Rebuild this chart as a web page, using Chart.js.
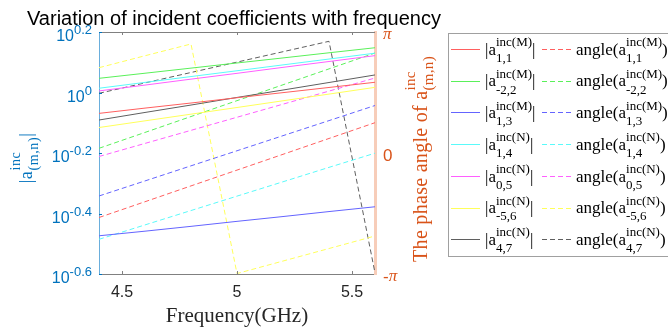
<!DOCTYPE html>
<html>
<head>
<meta charset="utf-8">
<script src="https://cdn.jsdelivr.net/npm/chart.js@4.4.1/dist/chart.umd.min.js"></script>
<style>
html,body{margin:0;padding:0;background:#ffffff;overflow:hidden;}
#wrap{position:relative;width:668px;height:333px;overflow:hidden;background:#fff;}
#c{position:absolute;left:0;top:0;}
.lbl{position:absolute;white-space:nowrap;line-height:1;margin:0;padding:0;}
.rot{position:absolute;left:0;top:0;width:0;height:0;transform-origin:0 0;}
</style>
</head>
<body>
<div id="wrap"><canvas id="c" width="668" height="333"></canvas><div id="ov"></div></div>
<script>
// ---------------- data ----------------
const freqGHz = [4.4, 4.6, 4.8, 5.0, 5.2, 5.4, 5.6];
const modeTypes = ['M', 'M', 'M', 'N', 'N', 'N', 'N'];
const modeIdx = ['1,1', '-2,2', '1,3', '1,4', '0,5', '-5,6', '4,7'];

// magnitudes |a|
const mag_1_1  = [0.853, 0.888, 0.923, 0.961, 0.999, 1.039, 1.081];
const mag_m2_2 = [1.114, 1.158, 1.204, 1.252, 1.301, 1.353, 1.406];
const mag_1_3  = [0.336, 0.348, 0.361, 0.375, 0.389, 0.404, 0.419];
const mag_1_4  = [1.033, 1.080, 1.129, 1.180, 1.234, 1.290, 1.349];
const mag_0_5  = [1.012, 1.058, 1.107, 1.157, 1.211, 1.266, 1.324];
const mag_m5_6 = [0.766, 0.806, 0.848, 0.892, 0.939, 0.988, 1.040];
const mag_4_7  = [0.811, 0.859, 0.909, 0.963, 1.019, 1.079, 1.143];

// phase angles (rad)
const ang_1_1  = [-1.675, -1.265, -0.854, -0.444, -0.034, 0.377, 0.787];
const ang_m2_2 = [0.122, 0.534, 0.947, 1.359, 1.771, 2.184, 2.596];
const ang_1_3  = [-1.116, -0.725, -0.333, 0.058, 0.450, 0.841, 1.233];
const ang_1_4  = [-2.241, -1.867, -1.494, -1.120, -0.747, -0.373, -0.005];
const ang_0_5  = [-0.091, 0.249, 0.588, 0.928, 1.268, 1.607, 1.947];
const ang_m5_6 = [2.215, 2.525, 2.830, -3.130, -2.805, -2.480, -2.155];
const ang_4_7  = [1.550, 1.820, 2.090, 2.360, 2.630, 2.900, -3.113];

// ticks
const xTicks = [4.5, 5, 5.5];
const yMagTickExps = [0.2, 0, -0.2, -0.4, -0.6];
const yAngTicks = [Math.PI, 0, -Math.PI];
const yAngTickLabels = ['π', '0', '-π'];

// ---------------- styles ----------------
const mags = [mag_1_1, mag_m2_2, mag_1_3, mag_1_4, mag_0_5, mag_m5_6, mag_4_7];
const angs = [ang_1_1, ang_m2_2, ang_1_3, ang_1_4, ang_0_5, ang_m5_6, ang_4_7];
const seriesColors = ['rgb(255,95,95)', 'rgb(90,240,90)', 'rgb(100,100,255)', 'rgb(90,250,250)',
                      'rgb(255,95,255)', 'rgb(255,255,90)', 'rgb(95,95,95)'];
const DASH = [5, 3];
const SERIF = '"Liberation Serif","Times New Roman",serif';
const SANS = '"Liberation Sans",Arial,sans-serif';
const BLUE = '#0072BD';
const ORANGE = '#D95319';

const datasets = [];
mags.forEach((m, i) => {
  datasets.push({
    label: '|a^{inc(' + modeTypes[i] + ')}_{' + modeIdx[i] + '}|',
    data: freqGHz.map((f, j) => ({x: f, y: m[j]})),
    yAxisID: 'yMag', borderColor: seriesColors[i], borderWidth: 1,
    pointRadius: 0, fill: false, tension: 0
  });
});
angs.forEach((a, i) => {
  datasets.push({
    label: 'angle(a^{inc(' + modeTypes[i] + ')}_{' + modeIdx[i] + '})',
    data: freqGHz.map((f, j) => ({x: f, y: a[j]})),
    yAxisID: 'yAng', borderColor: seriesColors[i], borderWidth: 1, borderDash: DASH,
    pointRadius: 0, fill: false, tension: 0
  });
});

const LEG_X = 448, LEG_Y0 = 49, LEG_DY = 31.7;

const deco = {
  id: 'deco',
  afterDraw(chart) {
    const ctx = chart.ctx, a = chart.chartArea;
    const xs = chart.scales.x, ym = chart.scales.yMag, ya = chart.scales.yAng;
    ctx.save();
    // top border
    ctx.strokeStyle = '#808080'; ctx.lineWidth = 1; ctx.setLineDash([]);
    ctx.beginPath(); ctx.moveTo(a.left, a.top + 0.5); ctx.lineTo(a.right, a.top + 0.5); ctx.stroke();
    // x tick marks
    xTicks.forEach(v => {
      const px = Math.round(xs.getPixelForValue(v)) + 0.5;
      ctx.beginPath();
      ctx.moveTo(px, a.bottom); ctx.lineTo(px, a.bottom - 3);
      ctx.moveTo(px, a.top); ctx.lineTo(px, a.top + 3);
      ctx.stroke();
    });
    // left log-axis ticks & labels
    ctx.strokeStyle = BLUE; ctx.fillStyle = BLUE; ctx.textAlign = 'left'; ctx.textBaseline = 'alphabetic';
    yMagTickExps.forEach(e => {
      const py = ym.getPixelForValue(Math.pow(10, e));
      ctx.beginPath(); ctx.moveTo(a.left, Math.round(py) + 0.5); ctx.lineTo(a.left + 3, Math.round(py) + 0.5); ctx.stroke();
      const ex = (e === 0) ? '0' : e.toFixed(1);
      ctx.font = '13px ' + SANS; const we = ctx.measureText(ex).width;
      ctx.font = '16px ' + SANS; const wm = ctx.measureText('10').width;
      const xr = 92;
      ctx.fillText('10', xr - we - wm, py + 9);
      ctx.font = '13px ' + SANS; ctx.fillText(ex, xr - we, py + 2);
    });
    // right angle-axis labels
    ctx.fillStyle = ORANGE;
    yAngTicks.forEach((v, i) => {
      const py = ya.getPixelForValue(v);
      const t = yAngTickLabels[i];
      let x = 383;
      if (t.startsWith('-')) { ctx.font = '17px ' + SANS; ctx.fillText('-', x, py + 8); x += ctx.measureText('-').width; }
      const core = t.replace('-', '');
      ctx.font = (core === 'π' ? 'italic 17px ' + SERIF : '17px ' + SANS);
      ctx.fillText(core, x, py + (core === 'π' ? 7 : 8));
    });
    // legend box
    ctx.setLineDash([]);
    ctx.strokeStyle = '#a0a0a0'; ctx.lineWidth = 1;
    ctx.strokeRect(LEG_X + 0.5, 33.5, 260, 223);
    // legend samples
    mags.forEach((m, i) => {
      const y = Math.round(LEG_Y0 + i * LEG_DY) + 0.5;
      ctx.strokeStyle = seriesColors[i];
      ctx.lineWidth = 1;
      ctx.setLineDash([]);
      ctx.beginPath(); ctx.moveTo(451, y); ctx.lineTo(480, y); ctx.stroke();
      ctx.setLineDash(DASH);
      ctx.beginPath(); ctx.moveTo(542, y); ctx.lineTo(572, y); ctx.stroke();
    });
    ctx.restore();
  }
};

new Chart(document.getElementById('c'), {
  type: 'line',
  data: {datasets},
  options: {
    responsive: false, devicePixelRatio: 1, animation: false, events: [],
    layout: {padding: {top: 32, left: 0, right: 0, bottom: 0}},
    plugins: {legend: {display: false}, tooltip: {enabled: false}, title: {display: false}},
    scales: {
      x: {
        type: 'linear', position: 'bottom', min: 4.4, max: 5.6,
        afterBuildTicks: s => { s.ticks = xTicks.map(v => ({value: v})); },
        afterFit: s => { s.height = 59; },
        ticks: {font: {family: SANS, size: 16}, color: '#262626', padding: 9, maxRotation: 0, autoSkip: false,
                callback: v => String(v)},
        grid: {display: false, drawTicks: false},
        border: {display: true, color: '#808080', width: 1}
      },
      yMag: {
        type: 'logarithmic', position: 'left', min: Math.pow(10, -0.6), max: Math.pow(10, 0.2),
        afterBuildTicks: s => { s.ticks = yMagTickExps.map(e => ({value: Math.pow(10, e)})); },
        afterFit: s => { s.width = 99; },
        ticks: {display: false},
        grid: {display: false, drawTicks: false},
        border: {display: true, color: '#6aaedc', width: 1}
      },
      yAng: {
        type: 'linear', position: 'right', min: -Math.PI, max: Math.PI,
        afterBuildTicks: s => { s.ticks = yAngTicks.map(v => ({value: v})); },
        afterFit: s => { s.width = 293; },
        ticks: {display: false},
        grid: {display: false, drawTicks: false},
        border: {display: true, color: '#f7cdb9', width: 3}
      }
    }
  },
  plugins: [deco]
});

// ---------------- HTML text overlays ----------------
const ov = document.getElementById('ov');
const mctx = document.createElement('canvas').getContext('2d');
function textW(t, size, family, ls) { mctx.font = size + 'px ' + family; return mctx.measureText(t).width + (ls || 0) * t.length; }
function addSpan(parent, text, x, base, size, family, color, k, ls) {
  const s = document.createElement('span');
  s.className = 'lbl';
  s.textContent = text;
  s.style.left = x + 'px';
  s.style.top = (base - k * size) + 'px';
  s.style.fontSize = size + 'px';
  s.style.fontFamily = family;
  s.style.color = color;
  if (ls) s.style.letterSpacing = ls + 'px';
  parent.appendChild(s);
}
function richWidth(parts, o) {
  let w = 0;
  parts.forEach(p => {
    if (typeof p === 'string') w += textW(p, o.main, o.family, o.ls);
    else w += Math.max(textW(p[0], o.script, o.family, o.ls), textW(p[1], o.script, o.family, o.ls));
  });
  return w;
}
function rich(parent, parts, x0, base, o) {
  let x = x0;
  parts.forEach(p => {
    if (typeof p === 'string') {
      addSpan(parent, p, x, base, o.main, o.family, o.color, o.k, o.ls);
      x += textW(p, o.main, o.family, o.ls);
    } else {
      addSpan(parent, p[0], x, base - o.up, o.script, o.family, o.color, o.k, o.ls);
      addSpan(parent, p[1], x, base + o.down, o.script, o.family, o.color, o.k, o.ls);
      x += Math.max(textW(p[0], o.script, o.family, o.ls), textW(p[1], o.script, o.family, o.ls));
    }
  });
  return x - x0;
}
function rotated(parts, cx, cy, o) {
  const d = document.createElement('div');
  d.className = 'rot';
  d.style.transform = 'translate(' + cx + 'px,' + cy + 'px) rotate(-90deg)';
  ov.appendChild(d);
  const w = richWidth(parts, o);
  rich(d, parts, -w / 2, 0, o);
}

// title
addSpan(ov, 'Variation of incident coefficients with frequency', 27, 25, 20, SANS, '#000000', 0.8465);
// x axis title
{
  const t = 'Frequency(GHz)', fs = 21;
  const w = textW(t, fs, SERIF);
  addSpan(ov, t, 237 - w / 2, 323, fs, SERIF, '#262626', 0.8375);
}
// left axis title
rotated(['|a', ['inc', '(m,n)'], '|'], 32, 158,
  {main: 18, script: 14, family: SERIF, color: BLUE, k: 0.8375, up: 11, down: 7, ls: 0.6});
// right axis title
rotated(['The phase angle of a', ['inc', '(m,n)']], 427, 159,
  {main: 20, script: 15, family: SERIF, color: ORANGE, k: 0.8375, up: 11, down: 7, ls: 0.3});

// legend text
const legOpt = {main: 17, script: 13, family: SERIF, color: '#000000', k: 0.8375, up: 9, down: 6.7};
modeIdx.forEach((idx, i) => {
  const base = LEG_Y0 + i * LEG_DY + 6;
  const sup = 'inc(' + modeTypes[i] + ')';
  rich(ov, ['|a', [sup, idx], '|'], 485, base, legOpt);
  rich(ov, ['angle(a', [sup, idx], ')'], 576, base, legOpt);
});
</script>
</body>
</html>
